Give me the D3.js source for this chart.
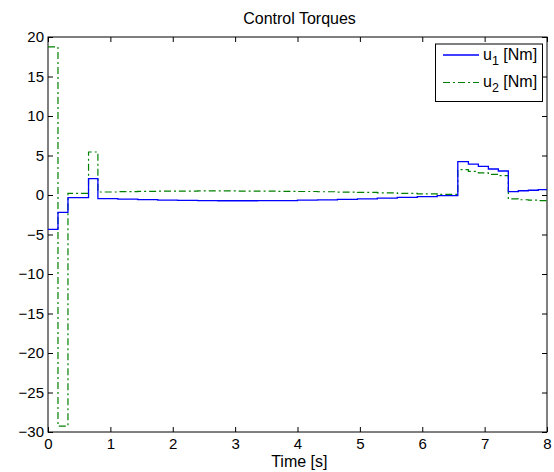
<!DOCTYPE html>
<html>
<head>
<meta charset="utf-8">
<script src="https://cdn.jsdelivr.net/npm/d3@7"></script>
<style>
  body { margin: 0; background: #fff; }
  svg { display: block; font-family: "Liberation Sans", Arial, Helvetica, sans-serif; }
  .tick text { font-size: 15px; fill: #000; }
</style>
</head>
<body>
<svg id="chart"></svg>
<script>
// step instants (s) of the zero-order-hold torques, last entry closes the plot
const stepTimes = [0, 0.16, 0.32, 0.65, 0.80, 1.12, 1.44, 1.76, 2.08, 2.40, 2.72, 3.04, 3.36,
    3.68, 4.00, 4.32, 4.64, 4.96, 5.28, 5.60, 5.92, 6.24, 6.57, 6.74, 6.90, 7.06, 7.22,
    7.38, 7.54, 7.70, 7.86, 8.00];
const u1 = [-4.34, -2.20, -0.34, 2.07, -0.47, -0.53, -0.59, -0.64, -0.68, -0.71, -0.73, -0.73,
    -0.72, -0.70, -0.66, -0.61, -0.55, -0.48, -0.40, -0.30, -0.20, -0.08, 4.22, 3.92, 3.63,
    3.29, 3.04, 0.42, 0.54, 0.60, 0.67, 0.67];
const u2 = [18.75, -29.25, 0.21, 5.44, 0.38, 0.42, 0.46, 0.48, 0.50, 0.51, 0.51, 0.50, 0.49,
    0.47, 0.44, 0.41, 0.37, 0.32, 0.26, 0.20, 0.14, 0.07, 3.20, 2.98, 2.80, 2.62, 2.45,
    -0.50, -0.60, -0.66, -0.72, -0.72];
const xTicks = [0, 1, 2, 3, 4, 5, 6, 7, 8];
const yTicks = [-30, -25, -20, -15, -10, -5, 0, 5, 10, 15, 20];
const seriesNames = ['u1', 'u2'];

const width = 554, height = 472;
const margin = { left: 48, right: 7, top: 37, bottom: 40 };

const svg = d3.select('#chart').attr('width', width).attr('height', height);
svg.append('rect').attr('width', width).attr('height', height).attr('fill', '#fff');

const x = d3.scaleLinear().domain([0, 8]).range([margin.left, width - margin.right]);
const y = d3.scaleLinear().domain([-30, 20]).range([height - margin.bottom, margin.top]);

const fmt = d => d < 0 ? '\u2212' + Math.abs(d) : String(d);

// clip for the curves
svg.append('defs').append('clipPath').attr('id', 'plotClip')
    .append('rect')
    .attr('x', x(0)).attr('y', y(20))
    .attr('width', x(8) - x(0)).attr('height', y(-30) - y(20));

// axes with inward ticks on all four sides
svg.append('g')
    .attr('transform', `translate(0,${y(-30)})`)
    .call(d3.axisBottom(x).tickValues(xTicks).tickSize(-5).tickPadding(6).tickFormat(fmt));
svg.append('g')
    .attr('transform', `translate(0,${y(20)})`)
    .call(d3.axisTop(x).tickValues(xTicks).tickSize(-5).tickFormat(''));
svg.append('g')
    .attr('transform', `translate(${x(0)},0)`)
    .call(d3.axisLeft(y).tickValues(yTicks).tickSize(-5).tickPadding(4).tickFormat(fmt));
svg.append('g')
    .attr('transform', `translate(${x(8)},0)`)
    .call(d3.axisRight(y).tickValues(yTicks).tickSize(-5).tickFormat(''));

svg.selectAll('.domain').remove();
svg.selectAll('.tick line').attr('stroke', '#000');

svg.append('rect')
    .attr('x', x(0)).attr('y', y(20))
    .attr('width', x(8) - x(0)).attr('height', y(-30) - y(20))
    .attr('fill', 'none').attr('stroke', '#000').attr('stroke-width', 1);

// torque curves
const line = d3.line()
    .x(d => x(d[0]))
    .y(d => y(d[1]))
    .curve(d3.curveStepAfter);

const styles = {
    u1: { color: '#0000ff', dash: null, width: 1.3 },
    u2: { color: '#008000', dash: '7,3,2,3', width: 1.2 }
};
const seriesData = { u1: u1, u2: u2 };

const plot = svg.append('g').attr('clip-path', 'url(#plotClip)');
seriesNames.slice().reverse().forEach(name => {
    plot.append('path')
        .datum(stepTimes.map((t, i) => [t, seriesData[name][i]]))
        .attr('fill', 'none')
        .attr('stroke', styles[name].color)
        .attr('stroke-width', styles[name].width)
        .attr('stroke-dasharray', styles[name].dash)
        .attr('d', line);
});

// title and axis label
svg.append('text')
    .attr('x', 299.5).attr('y', 24.3)
    .attr('text-anchor', 'middle')
    .attr('font-size', 16)
    .text('Control Torques');
svg.append('text')
    .attr('x', 299.3).attr('y', 467)
    .attr('text-anchor', 'middle')
    .attr('font-size', 16)
    .text('Time [s]');

// legend
const legend = svg.append('g');
legend.append('rect')
    .attr('x', 435.5).attr('y', 44)
    .attr('width', 107).attr('height', 57.5)
    .attr('fill', '#fff').attr('stroke', '#000').attr('stroke-width', 1);

seriesNames.forEach((name, i) => {
    const rowY = 59.5 + i * 27.5;
    legend.append('line')
        .attr('x1', 443).attr('x2', 479)
        .attr('y1', rowY - 4.5).attr('y2', rowY - 4.5)
        .attr('stroke', styles[name].color)
        .attr('stroke-width', styles[name].width)
        .attr('stroke-dasharray', styles[name].dash);
    const t = legend.append('text')
        .attr('x', 483).attr('y', rowY)
        .attr('font-size', 16);
    t.append('tspan').text('u');
    t.append('tspan').attr('dy', 5).attr('font-size', 12.5).text(String(i + 1));
    t.append('tspan').attr('dy', -5).text(' [Nm]');
});
</script>
</body>
</html>
